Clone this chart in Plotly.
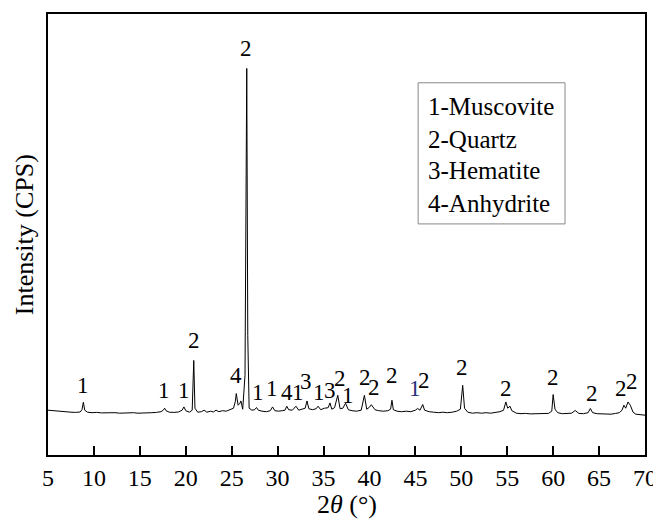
import plotly.graph_objects as go

# XRD scan (2θ in degrees, intensity in arbitrary CPS units)
two_theta = [
    5.0, 5.5, 6.0, 6.5, 7.0, 7.5, 8.0, 8.5, 8.7, 8.85,
    9.0, 9.3, 9.8, 10.3, 10.8, 11.3, 11.8, 12.3, 12.8, 13.3,
    13.8, 14.3, 14.8, 15.3, 15.8, 16.3, 16.8, 17.3, 17.55, 17.7,
    17.85, 18.2, 18.7, 19.2, 19.6, 19.8, 20.0, 20.4, 20.7, 20.87,
    21.0, 21.3, 21.7, 22.0, 22.3, 22.7, 23.0, 23.3, 23.6, 24.0,
    24.4, 24.8, 25.2, 25.4, 25.5, 25.7, 25.9, 26.0, 26.2, 26.45,
    26.55, 26.64, 26.75, 26.9, 27.2, 27.5, 27.7, 27.9, 28.3, 28.8,
    29.2, 29.45, 29.7, 30.1, 30.5, 30.8, 31.0, 31.2, 31.6, 32.0,
    32.3, 32.7, 33.0, 33.2, 33.4, 33.8, 34.2, 34.4, 34.7, 35.1,
    35.5, 35.7, 35.9, 36.2, 36.55, 36.8, 37.1, 37.4, 37.7, 38.1,
    38.6, 39.1, 39.45, 39.7, 40.0, 40.2, 40.6, 41.0, 41.5, 42.0,
    42.3, 42.45, 42.6, 43.0, 43.5, 44.0, 44.5, 45.0, 45.25, 45.5,
    45.8, 46.0, 46.5, 47.0, 47.5, 48.0, 48.5, 49.0, 49.5, 49.9,
    50.15, 50.35, 50.7, 51.2, 51.7, 52.2, 52.7, 53.2, 53.7, 54.2,
    54.6, 54.85, 55.05, 55.3, 55.5, 56.0, 56.5, 57.0, 57.5, 58.0,
    58.5, 59.0, 59.5, 59.85, 60.0, 60.2, 60.5, 61.0, 61.5, 62.0,
    62.4, 62.8, 63.3, 63.8, 64.05, 64.3, 64.8, 65.3, 65.8, 66.3,
    66.8, 67.2, 67.5, 67.7, 67.9, 68.15, 68.4, 68.7, 69.0, 69.5,
    70.0,
]
intensity = [
    450, 445, 440, 435, 432, 430, 428, 432, 455, 530,
    450, 430, 425, 428, 423, 426, 422, 425, 420, 424,
    421, 425, 420, 424, 421, 425, 428, 435, 450, 470,
    445, 430, 428, 432, 450, 483, 445, 430, 450, 950,
    470, 430, 435, 450, 430, 440, 432, 450, 435, 445,
    440, 455, 470, 540, 617, 500, 520, 543, 460, 800,
    2000, 3883, 1200, 470, 450, 455, 477, 450, 440, 435,
    445, 483, 445, 440, 445, 450, 490, 455, 450, 490,
    450, 460, 470, 543, 465, 455, 465, 490, 455, 470,
    475, 523, 460, 475, 600, 465, 470, 520, 455, 445,
    440, 450, 600, 460, 480, 505, 455, 445, 440, 445,
    460, 550, 455, 440, 435, 440, 435, 450, 467, 450,
    507, 450, 435, 430, 425, 430, 425, 430, 440, 460,
    700, 470, 430, 420, 425, 420, 425, 420, 425, 435,
    450, 533, 470, 490, 445, 420, 415, 418, 413, 416,
    412, 415, 418, 440, 607, 460, 425, 415, 418, 420,
    447, 418, 415, 425, 467, 425, 415, 412, 415, 410,
    418, 425, 450, 500, 470, 533, 500, 430, 410, 405,
    400,
]

# Phase labels above peaks
label_x = [8.8, 17.6, 19.8, 20.9, 25.5, 26.6, 27.9, 29.4, 31.0, 32.2,
           33.1, 34.5, 35.7, 36.8, 37.7, 39.5, 40.5, 42.5, 45.0, 45.9,
           50.1, 54.9, 60.0, 64.2, 67.4, 68.6]
label_y = [700, 650, 650, 1150, 800, 4080, 630, 670, 630, 630,
           740, 630, 650, 770, 600, 780, 680, 800, 670, 750,
           880, 670, 780, 620, 670, 740]
label_text = ["1", "1", "1", "2", "4", "2", "1", "1", "4", "1",
              "3", "1", "3", "2", "1", "2", "2", "2", "1", "2",
              "2", "2", "2", "2", "2", "2"]

legend_lines = ["1-Muscovite", "2-Quartz", "3-Hematite", "4-Anhydrite"]
x_ticks = [5, 10, 15, 20, 25, 30, 35, 40, 45, 50, 55, 60, 65, 70]

FONT = "Liberation Serif, Times New Roman, serif"

fig = go.Figure()
fig.add_trace(go.Scatter(x=two_theta, y=intensity, mode="lines",
                         line=dict(color="black", width=1), showlegend=False))

for x, y, t in zip(label_x, label_y, label_text):
    col = "#26327a" if (t == "1" and abs(x - 45.0) < 0.01) else "black"
    fig.add_annotation(x=x, y=y, text=t, showarrow=False, xref="x", yref="y",
                       font=dict(family=FONT, size=23, color=col),
                       xanchor="center", yanchor="middle", borderpad=0)

# Legend box
fig.add_shape(type="rect", xref="paper", yref="paper",
              x0=0.620, x1=0.866, y0=0.524, y1=0.844,
              line=dict(color="#888888", width=1), fillcolor="white")
legend_y = [0.790, 0.716, 0.646, 0.571]
for t, y in zip(legend_lines, legend_y):
    fig.add_annotation(x=0.633, y=y, xref="paper", yref="paper", text=t,
                       showarrow=False, xanchor="left", yanchor="middle",
                       font=dict(family=FONT, size=25, color="black"))

# Axis titles
fig.add_annotation(x=0.5, y=-0.113, xref="paper", yref="paper",
                   text="2<i>θ</i> (°)", showarrow=False,
                   xanchor="center", yanchor="middle",
                   font=dict(family=FONT, size=26, color="black"))
fig.add_annotation(x=-0.039, y=0.5, xref="paper", yref="paper",
                   text="Intensity (CPS)", showarrow=False, textangle=-90,
                   xanchor="center", yanchor="middle", borderpad=0,
                   font=dict(family=FONT, size=26, color="black"))

fig.update_xaxes(range=[5, 70], tickvals=x_ticks, ticktext=[str(v) for v in x_ticks],
                 ticks="inside", ticklen=9, tickwidth=1.5, tickcolor="black",
                 showline=True, linecolor="black", linewidth=1.5, mirror=True,
                 showgrid=False, zeroline=False,
                 tickfont=dict(family=FONT, size=24, color="black"))
fig.update_yaxes(range=[0, 4430], showticklabels=False, ticks="",
                 showline=True, linecolor="black", linewidth=1.5, mirror=True,
                 showgrid=False, zeroline=False)

# The page body adds an 8 px offset; the figure is sized to compensate.
fig.update_layout(width=653, height=518,
                  margin=dict(l=40, r=16, t=4, b=71),
                  paper_bgcolor="white", plot_bgcolor="white",
                  font=dict(family=FONT, size=24, color="black"))

fig.write_html("out.html")
